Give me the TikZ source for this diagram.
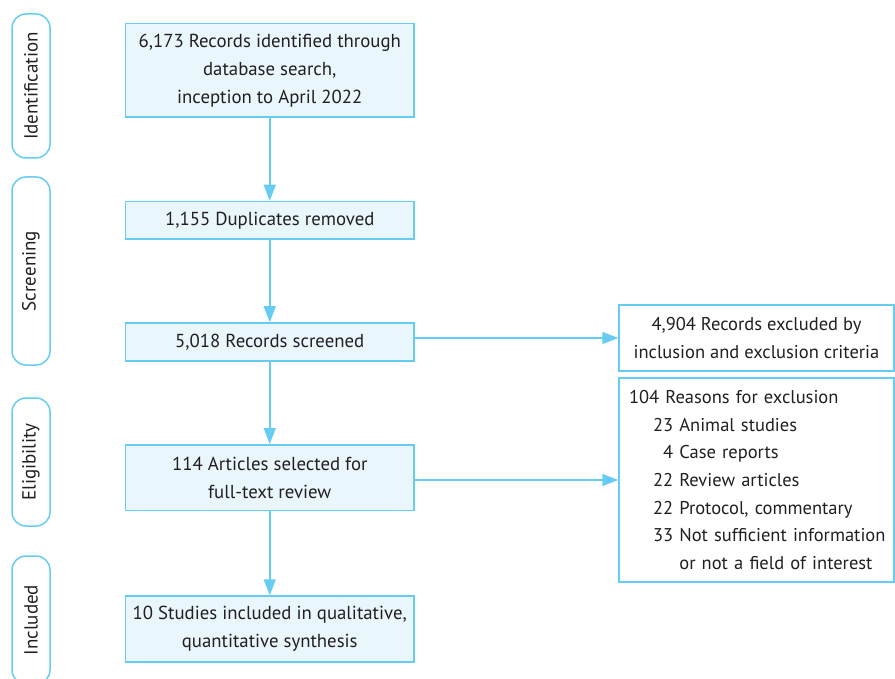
\documentclass[tikz,border=0pt]{standalone}
\usepackage{fontspec}
\setmainfont{PT Sans}
\usetikzlibrary{arrows.meta}
\definecolor{bord}{RGB}{102,204,242}
\definecolor{fillb}{RGB}{233,246,252}
\definecolor{txt}{RGB}{35,31,32}
\tikzset{
  mainbox/.style={draw=bord, fill=fillb, line width=1.5pt, minimum width=288.5pt, align=center, inner sep=0pt, text=txt, font=\fontsize{18.8}{28}\selectfont},
  sidebox/.style={draw=bord, fill=white, line width=1.5pt, minimum width=275pt, inner sep=0pt, text=txt, font=\fontsize{18.5}{27.7}\selectfont},
  phase/.style={draw=bord, line width=1.5pt, rounded corners=14pt, minimum width=38pt, inner sep=0pt, text=txt, font=\fontsize{19}{20}\selectfont},
  arr/.style={draw=bord, line width=1.5pt, -{Triangle[length=16pt,width=12pt]}}
}
\begin{document}
\begin{tikzpicture}[x=1pt,y=-1pt]
\useasboundingbox (0,0) rectangle (895,679);
\clip (0,0) rectangle (895,679);
% phases
\node[phase, minimum height=144pt] (p1) at (31,86) {\rotatebox{90}{Identification}};
\node[phase, minimum height=188pt] (p2) at (31,271) {\rotatebox{90}{Screening}};
\node[phase, minimum height=128pt] (p3) at (31,462) {\rotatebox{90}{Eligibility}};
\node[phase, minimum height=128pt] (p4) at (31,620) {\rotatebox{90}{Included}};
% main boxes
\node[mainbox, minimum height=93.5pt] (b1) at (269.75,70.25) {6,173 Records identified through\\database search,\\inception to April 2022};
\node[mainbox, minimum height=37.5pt] (b2) at (269.75,220.25) {1,155 Duplicates removed};
\node[mainbox, minimum height=38pt] (b3) at (269.75,342) {5,018 Records screened};
\node[mainbox, minimum height=65.5pt] (b4) at (269.75,477.5) {114 Articles selected for\\full-text review};
\node[mainbox, minimum height=66pt] (b5) at (269.75,629) {10 Studies included in qualitative,\\quantitative synthesis};
% side boxes
\node[sidebox, minimum height=66pt, align=center] (s1) at (756.5,338) {4,904 Records excluded by\\inclusion and exclusion criteria};
\node[sidebox, minimum height=204pt, text width=255pt, inner xsep=10pt, align=left] (s2) at (756.5,480) {\mbox{104 Reasons for exclusion}\\
\mbox{\hspace*{24pt}23 Animal studies}\\
\mbox{\hspace*{24pt}\hphantom{2}4 Case reports}\\
\mbox{\hspace*{24pt}22 Review articles}\\
\mbox{\hspace*{24pt}22 Protocol, commentary}\\
\mbox{\hspace*{24pt}33 Not sufficient information}\\
\mbox{\hspace*{24pt}\hphantom{33 }or not a field of interest}};
% arrows
\draw[arr] (b1) -- (b2);
\draw[arr] (b2) -- (b3);
\draw[arr] (b3) -- (b4);
\draw[arr] (b4) -- (b5);
\draw[arr] (b3.east |- s1.west) -- (s1.west);
\draw[arr] (b4.east |- s2.west) -- (s2.west);
\end{tikzpicture}
\end{document}
